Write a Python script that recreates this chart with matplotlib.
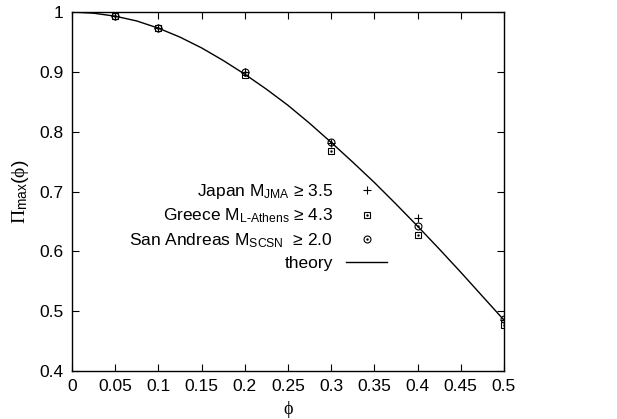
import matplotlib
matplotlib.use("Agg")
import matplotlib.pyplot as plt

plt.rcParams['font.family'] = ['Liberation Sans', 'DejaVu Sans']
plt.rcParams['mathtext.fontset'] = 'custom'
plt.rcParams['mathtext.rm'] = 'Liberation Serif'
plt.rcParams['mathtext.it'] = 'Liberation Serif'
plt.rcParams['mathtext.sf'] = 'Liberation Sans'

phi_data = [0.05, 0.1, 0.2, 0.3, 0.4, 0.5]
japan = [0.994, 0.973, 0.899, 0.781, 0.655, 0.486]
greece = [0.993, 0.973, 0.894, 0.768, 0.628, 0.477]
sanandreas = [0.994, 0.974, 0.899, 0.782, 0.642, 0.487]

phi_theory = [0.0, 0.025, 0.05, 0.075, 0.1, 0.125, 0.15, 0.175, 0.2, 0.225, 0.25,
              0.275, 0.3, 0.325, 0.35, 0.375, 0.4, 0.425, 0.45, 0.475, 0.5]
pi_theory = [1.000, 0.998, 0.993, 0.985, 0.973, 0.958, 0.940, 0.919, 0.896, 0.871, 0.844,
             0.814, 0.782, 0.749, 0.715, 0.679, 0.642, 0.604, 0.565, 0.525, 0.485]

xticks = [0, 0.05, 0.1, 0.15, 0.2, 0.25, 0.3, 0.35, 0.4, 0.45, 0.5]
xticklabels = ['0', '0.05', '0.1', '0.15', '0.2', '0.25', '0.3', '0.35', '0.4', '0.45', '0.5']
yticks = [0.4, 0.5, 0.6, 0.7, 0.8, 0.9, 1.0]
yticklabels = ['0.4', '0.5', '0.6', '0.7', '0.8', '0.9', '1']

fig = plt.figure(figsize=(6.17, 4.19), dpi=100)
ax = fig.add_axes([72/617, 1-371/419, (504-72)/617, (371-12)/419])

lt, = ax.plot(phi_theory, pi_theory, color='black', lw=1.0, zorder=2)
lj, = ax.plot(phi_data, japan, linestyle='none', marker='+', ms=6, mew=0.8, color='black', zorder=3)
lg, = ax.plot(phi_data, greece, linestyle='none', marker='s', ms=5, mfc='none', mew=0.8, color='black', zorder=3)
lgd, = ax.plot(phi_data, greece, linestyle='none', marker='.', ms=1.5, color='black', zorder=3)
ls, = ax.plot(phi_data, sanandreas, linestyle='none', marker='o', ms=5, mfc='none', mew=0.8, color='black', zorder=3)
lsd, = ax.plot(phi_data, sanandreas, linestyle='none', marker='.', ms=1.5, color='black', zorder=3)

ax.set_xlim(0, 0.5)
ax.set_ylim(0.4, 1.0)
ax.set_xticks(xticks)
ax.set_xticklabels(xticklabels)
ax.set_yticks(yticks)
ax.set_yticklabels(yticklabels)
ax.tick_params(direction='in', top=True, right=True, length=5, width=0.8, labelsize=12.5, pad=6)
for s in ax.spines.values():
    s.set_linewidth(1.0)

ax.set_xlabel(r'$\mathrm{\phi}$', fontsize=13, labelpad=3)
ax.set_ylabel(r'$\Pi_{\mathsf{max}}\mathsf{(}\phi\mathsf{)}$', fontsize=14, labelpad=6)

handles = [lj, (lg, lgd), (ls, lsd), lt]
labels = [r'Japan M$_{\mathsf{JMA}}$ ≥ 3.5',
          r'Greece M$_{\mathsf{L\text{-}Athens}}$ ≥ 4.3',
          r'San Andreas M$_{\mathsf{SCSN}}$  ≥ 2.0',
          'theory']
leg = ax.legend(handles, labels, loc='upper right', bbox_to_anchor=((394-72)/432, (371-175)/359),
                frameon=False, markerfirst=False, fontsize=12.5, handlelength=2.36,
                handletextpad=0.75, labelspacing=0.35, borderaxespad=0)
for t in leg.get_texts():
    t.set_ha('right')
fig.savefig('out.png', dpi=100)
